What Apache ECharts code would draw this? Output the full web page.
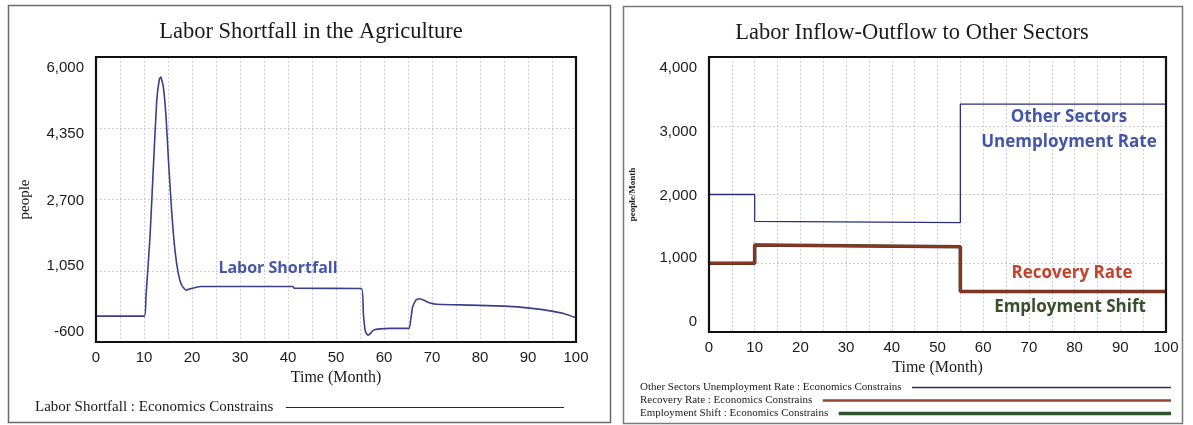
<!DOCTYPE html>
<html>
<head>
<meta charset="utf-8">
<title>Labor Shortfall and Labor Inflow-Outflow</title>
<script src="https://cdn.jsdelivr.net/npm/echarts@6/dist/echarts.min.js"></script>
<style>
  html, body { margin: 0; padding: 0; background: #ffffff; }
  #chart { width: 1193px; height: 425px; }
</style>
</head>
<body>
<div id="chart"></div>
<script>
// ---- Left panel: Labor Shortfall (people) over time (months)
const laborMonths = [0, 10.05, 10.4, 11.25, 11.95, 12.65, 13.2, 13.5, 14.05, 14.6, 15.1, 15.75,
  16.45, 17.15, 17.85, 18.75, 19.6, 21.7, 41, 41.3, 55.3, 55.7, 56.05, 56.4, 56.7, 57.2,
  57.8, 59.2, 61.25, 65.2, 65.55, 65.8, 65.97, 66.67, 67.35, 68.2, 69.6, 71, 78, 85,
  90.4, 94.6, 97.4, 100];
const laborShortfall = [0, 0, 445, 1830, 3450, 4985, 5485, 5535, 5290, 4600, 3600, 2450,
  1520, 985, 715, 600, 630, 685, 685, 645, 640, 60, -325, -415, -440, -400,
  -325, -295, -285, -285, -95, 100, 215, 370, 400, 370, 305, 275, 255, 230,
  185, 120, 60, -40];
const leftYTicks = [-600, 1050, 2700, 4350, 6000];

// ---- Right panel: flows to other sectors (people/Month), step changes at months 10 and 55
const flowMonths = [0, 10, 10, 55, 55, 100];
const unemploymentRate = [2000, 2000, 1610, 1590, 3315, 3315];
const recoveryRate = [1000, 1000, 1265, 1240, 590, 590];
const employmentShift = [1000, 1000, 1265, 1240, 590, 590];
const rightYTicks = [0, 1000, 2000, 3000, 4000];

const xTicks = [0, 10, 20, 30, 40, 50, 60, 70, 80, 90, 100];

const NAME_LS = 'Labor Shortfall : Economics Constrains';
const NAME_UR = 'Other Sectors Unemployment Rate : Economics Constrains';
const NAME_RR = 'Recovery Rate : Economics Constrains';
const NAME_ES = 'Employment Shift : Economics Constrains';

const SERIF = '"Liberation Serif", "Times New Roman", serif';
const SANS = '"Liberation Sans", Arial, sans-serif';
const BOLD_SANS = '"Open Sans", Lato, sans-serif';

// plot rectangles of the two panels
const LEFT_PLOT = { left: 96, top: 57, width: 480, height: 285 };
const RIGHT_PLOT = { left: 709, top: 57, width: 457, height: 275 };

function pairs(xs, ys) { return xs.map((x, i) => [x, ys[i]]); }

function textWidth(str, font) {
  const ctx = document.createElement('canvas').getContext('2d');
  ctx.font = font;
  return ctx.measureText(str).width;
}

// Tick labels sit inside the frame: the top label hangs below its tick,
// the bottom one rests above it, the rest are spread evenly between.
function tickRich(ticks) {
  const rich = {};
  ticks.forEach((v, i) => {
    const f = i / (ticks.length - 1);
    const s = Math.round(-10 + 21 * f);
    rich['t' + i] = {
      fontFamily: SANS, fontSize: 15, color: '#1a1a1a',
      padding: s > 0 ? [2 * s, 0, 0, 0] : [0, 0, -2 * s, 0]
    };
  });
  return rich;
}
function tickFormatter(ticks) {
  return (v) => {
    const i = ticks.indexOf(v);
    return i < 0 ? '' : '{t' + i + '|' + v.toLocaleString('en-US') + '}';
  };
}

const gridLine = { show: true, lineStyle: { color: '#cdd0d8', width: 1, type: [2, 2] } };

function xAxisFor(gridIndex) {
  return {
    type: 'value', gridIndex, min: 0, max: 100, interval: 5,
    axisLine: { show: false }, axisTick: { show: false },
    axisLabel: {
      margin: 8, fontFamily: SANS, fontSize: 15, color: '#1a1a1a',
      formatter: (v) => (xTicks.indexOf(v) >= 0 ? String(v) : '')
    },
    splitLine: gridLine,
    name: 'Time (Month)', nameLocation: 'middle', nameGap: 27,
    nameTextStyle: { fontFamily: SERIF, fontSize: 16, color: '#1a1a1a' }
  };
}

function yAxisFor(gridIndex, ticks, name, nameGap, nameStyle) {
  return {
    type: 'value', gridIndex,
    min: ticks[0], max: ticks[ticks.length - 1], interval: ticks[1] - ticks[0],
    axisLine: { show: false }, axisTick: { show: false },
    axisLabel: { margin: 12, formatter: tickFormatter(ticks), rich: tickRich(ticks) },
    splitLine: gridLine,
    name, nameLocation: 'middle', nameGap, nameRotate: 90,
    nameTextStyle: nameStyle
  };
}

// Legend rows: text first, then a plain line that runs out to a fixed right edge
const LEG_LEFT_FONT = '15px ' + SERIF;
const LEG_RIGHT_FONT = '11px ' + SERIF;
function legendRow(name, left, centerY, lineEnd, font, fontSize, gapPx, line) {
  const label = name + '\u2002';
  const w = textWidth(label, font);
  return {
    data: [name], left, top: centerY - 5, orient: 'horizontal', align: 'right',
    padding: 0, itemHeight: 10, selectedMode: false,
    itemWidth: Math.max(20, lineEnd - left - w - 5 - gapPx),
    itemStyle: { opacity: 0 },
    lineStyle: line,
    formatter: () => label,
    textStyle: { fontFamily: SERIF, fontSize, color: '#1a1a1a' }
  };
}

function frameRect(p) {
  return {
    type: 'rect', z: 100, silent: true,
    shape: { x: p.left, y: p.top, width: p.width, height: p.height },
    style: { fill: 'none', stroke: '#111', lineWidth: 2.2 }
  };
}

function label(text, x, y, font, fill) {
  return {
    type: 'text', x, y, silent: true, z: 50,
    style: { text, font, fill, align: 'center', verticalAlign: 'middle', textAlign: 'center', textVerticalAlign: 'middle' }
  };
}

const chart = echarts.init(document.getElementById('chart'), null, { renderer: 'canvas' });

const option = {
  animation: false,
  backgroundColor: '#ffffff',
  grid: [
    Object.assign({ show: false }, LEFT_PLOT),
    Object.assign({ show: false }, RIGHT_PLOT)
  ],
  xAxis: [xAxisFor(0), xAxisFor(1)],
  yAxis: [
    yAxisFor(0, leftYTicks, 'people', 63, { fontFamily: SERIF, fontSize: 15, color: '#1a1a1a' }),
    yAxisFor(1, rightYTicks, 'people/Month', 72, { fontFamily: SERIF, fontSize: 9, fontWeight: 'bold', color: '#1a1a1a' })
  ],
  legend: [
    legendRow(NAME_LS, 35, 405, 568, LEG_LEFT_FONT, 15, 4, { width: 1.2, color: '#23244a' }),
    legendRow(NAME_UR, 640, 387, 1173, LEG_RIGHT_FONT, 11, 2, { width: 1.5, color: '#2b2f6a' }),
    legendRow(NAME_RR, 640, 400, 1173, LEG_RIGHT_FONT, 11, 2, { width: 2.4, color: '#9a4030' }),
    legendRow(NAME_ES, 640, 413, 1173, LEG_RIGHT_FONT, 11, 2, { width: 3.6, color: '#2c5530' })
  ],
  series: [
    {
      name: NAME_LS, type: 'line', xAxisIndex: 0, yAxisIndex: 0,
      data: pairs(laborMonths, laborShortfall),
      symbol: 'none', showSymbol: false, smooth: 0.15,
      lineStyle: { color: '#3a3f8c', width: 1.6 }, itemStyle: { color: '#3a3f8c' }
    },
    {
      name: NAME_UR, type: 'line', xAxisIndex: 1, yAxisIndex: 1,
      data: pairs(flowMonths, unemploymentRate),
      symbol: 'none', showSymbol: false,
      lineStyle: { color: '#2b2f78', width: 1.3 }, itemStyle: { color: '#2b2f78' }
    },
    {
      name: NAME_ES, type: 'line', xAxisIndex: 1, yAxisIndex: 1,
      data: pairs(flowMonths, employmentShift),
      symbol: 'none', showSymbol: false,
      lineStyle: { color: '#3a3a22', width: 3.6 }, itemStyle: { color: '#2c5530' }
    },
    {
      name: NAME_RR, type: 'line', xAxisIndex: 1, yAxisIndex: 1,
      data: pairs(flowMonths, recoveryRate),
      symbol: 'none', showSymbol: false,
      lineStyle: { color: '#8e3522', width: 2.6 }, itemStyle: { color: '#9a4030' }
    }
  ],
  graphic: [
    // panel outlines and plot frames
    { type: 'rect', shape: { x: 8.5, y: 5.5, width: 602, height: 417 }, style: { fill: 'none', stroke: '#6a6a6a', lineWidth: 1.5 }, silent: true },
    { type: 'rect', shape: { x: 623.5, y: 6.5, width: 559, height: 417 }, style: { fill: 'none', stroke: '#7a7a7a', lineWidth: 1.5 }, silent: true },
    frameRect(LEFT_PLOT),
    frameRect(RIGHT_PLOT),
    // panel titles
    label('Labor Shortfall in the Agriculture', 311, 32, '22.5px ' + SERIF, '#1a1a1a'),
    label('Labor Inflow-Outflow to Other Sectors', 912, 33, '22.5px ' + SERIF, '#1a1a1a'),
    // series annotations
    label('Labor Shortfall', 278, 268, 'bold 16px ' + BOLD_SANS, '#4657aa'),
    label('Other Sectors', 1069, 117, 'bold 17px ' + BOLD_SANS, '#4355a8'),
    label('Unemployment Rate', 1069, 142, 'bold 17px ' + BOLD_SANS, '#4355a8'),
    label('Recovery Rate', 1072, 273, 'bold 17px ' + BOLD_SANS, '#c4432a'),
    label('Employment Shift', 1070, 307, 'bold 17px ' + BOLD_SANS, '#3a4d2c')
  ]
};

chart.setOption(option);
</script>
</body>
</html>
